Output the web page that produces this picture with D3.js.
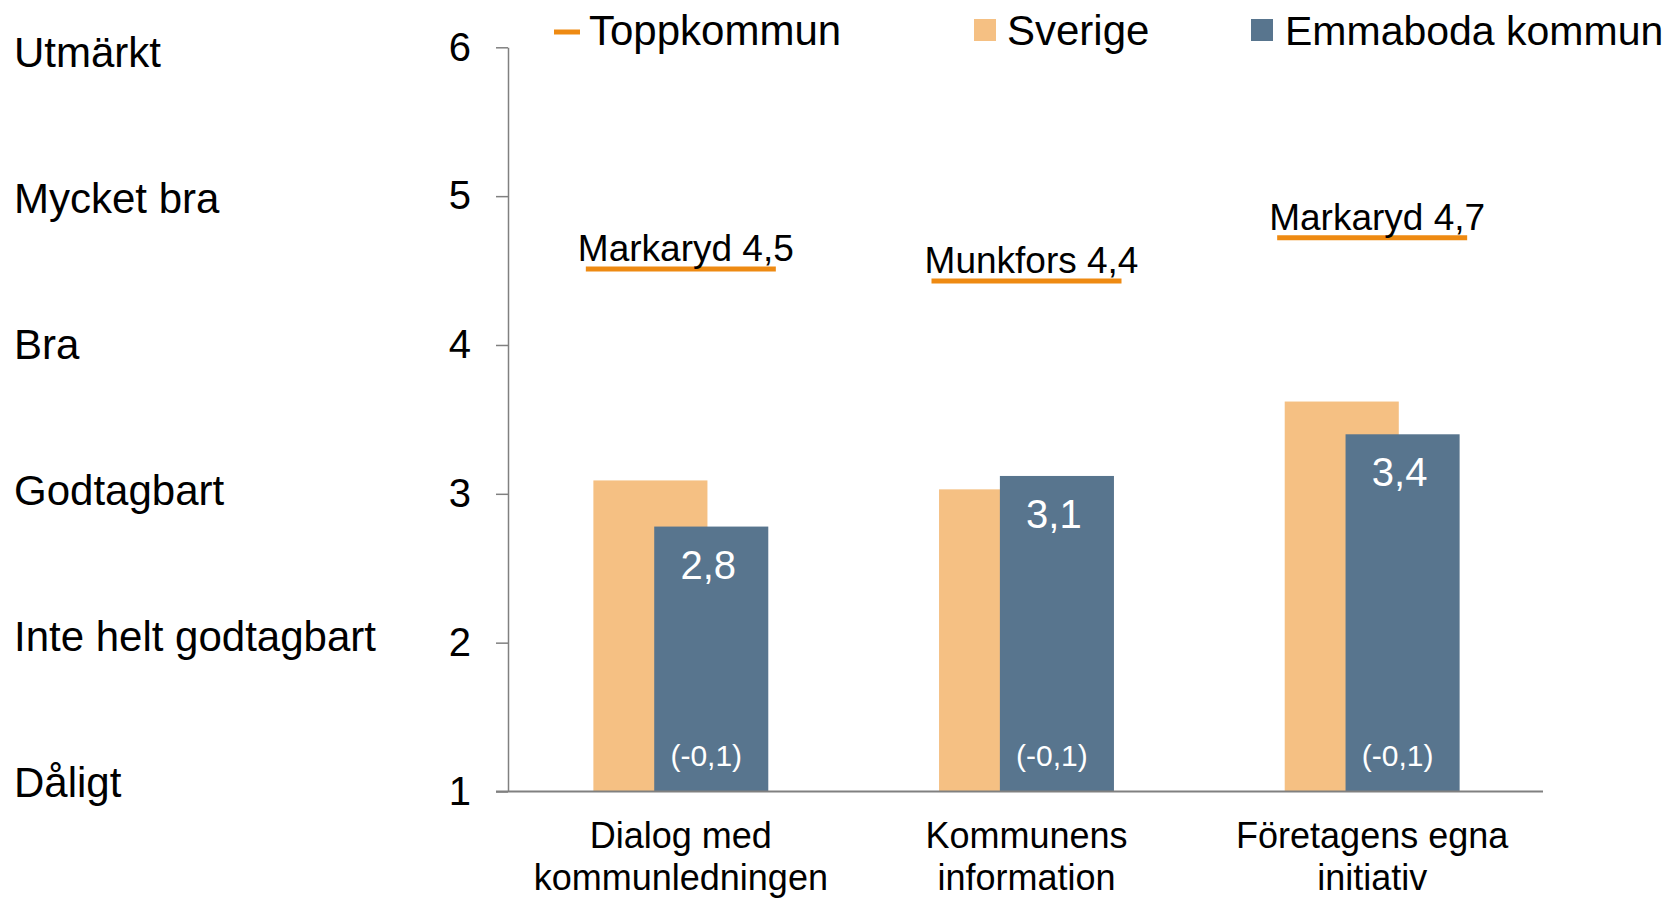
<!DOCTYPE html>
<html>
<head>
<meta charset="utf-8">
<script src="https://cdn.jsdelivr.net/npm/d3@7"></script>
<style>
  html, body { margin: 0; padding: 0; background: #ffffff; }
  svg { display: block; font-family: "Liberation Sans", Arial, sans-serif; }
</style>
</head>
<body>
<svg id="chart" width="1680" height="900"></svg>
<script>
// ---- data ----
const categories = [
  ["Dialog med", "kommunledningen"],
  ["Kommunens", "information"],
  ["Företagens egna", "initiativ"]
];
const sverige = [3.09, 3.03, 3.62];
const emmaboda = [2.78, 3.12, 3.40];
const topNames = ["Markaryd", "Munkfors", "Markaryd"];
const topValues = [4.51, 4.43, 4.72];
const changes = [-0.1, -0.1, -0.1];
const yTicks = [1, 2, 3, 4, 5, 6];
const scaleLabels = ["Dåligt", "Inte helt godtagbart", "Godtagbart", "Bra", "Mycket bra", "Utmärkt"];
const seriesNames = ["Toppkommun", "Sverige", "Emmaboda kommun"];

// ---- style ----
const cSverige = "#F5C083";
const cEmma = "#58758E";
const cTop = "#EE8A12";
const cAxis = "#808080";

const svg = d3.select("#chart");
const fmt = v => d3.format(".1f")(v).replace(".", ",").replace("\u2212", "-");

const y = d3.scaleLinear().domain([1, 6]).range([791.5, 47.3]);
const x = d3.scaleBand().domain(d3.range(categories.length)).range([508, 1545]).padding(0);
const bw = x.bandwidth() * 0.33;
const shift = x.bandwidth() * 0.088;
const centre = i => x(i) + x.bandwidth() / 2;

// y axis
const yAxis = svg.append("g").attr("transform", "translate(508,0)")
  .call(d3.axisLeft(y).tickValues(yTicks).tickFormat(d3.format("d")).tickSize(12).tickPadding(25).tickSizeOuter(0));
yAxis.select(".domain").attr("stroke", cAxis).attr("stroke-width", 1.5);
yAxis.selectAll(".tick line").attr("stroke", cAxis).attr("stroke-width", 1.5);
yAxis.selectAll(".tick text").attr("font-size", 40).attr("fill", "#000").attr("font-family", "Liberation Sans, Arial, sans-serif");

// left scale labels
const labelY = d3.scaleLinear().domain([1, 6]).range([782, 52]);
svg.append("g").selectAll("text").data(yTicks).join("text")
  .attr("x", 14)
  .attr("y", d => labelY(d) + 15)
  .attr("font-size", 42)
  .attr("fill", "#000")
  .text((d, i) => scaleLabels[i]);

// bars
const g = svg.append("g");
g.selectAll("rect.sv").data(sverige).join("rect").attr("class", "sv")
  .attr("x", (d, i) => centre(i) - shift - bw / 2)
  .attr("y", d => y(d))
  .attr("width", bw)
  .attr("height", d => y(1) - y(d))
  .attr("fill", cSverige);

g.selectAll("rect.em").data(emmaboda).join("rect").attr("class", "em")
  .attr("x", (d, i) => centre(i) + shift - bw / 2)
  .attr("y", d => y(d))
  .attr("width", bw)
  .attr("height", d => y(1) - y(d))
  .attr("fill", cEmma);

// value labels
g.selectAll("text.val").data(emmaboda).join("text").attr("class", "val")
  .attr("x", (d, i) => centre(i) + shift - 3)
  .attr("y", d => y(d) + 52)
  .attr("text-anchor", "middle")
  .attr("font-size", 40)
  .attr("fill", "#fff")
  .text(d => fmt(d));

g.selectAll("text.chg").data(changes).join("text").attr("class", "chg")
  .attr("x", (d, i) => centre(i) + shift - 5)
  .attr("y", y(1) - 26)
  .attr("text-anchor", "middle")
  .attr("font-size", 30)
  .attr("fill", "#fff")
  .text(d => "(" + fmt(d) + ")");

// x baseline
svg.append("line")
  .attr("x1", 496).attr("x2", 1543)
  .attr("y1", y(1)).attr("y2", y(1))
  .attr("stroke", cAxis).attr("stroke-width", 2);

// category labels
const cat = svg.append("g").selectAll("text").data(categories).join("text")
  .attr("text-anchor", "middle")
  .attr("font-size", 36)
  .attr("fill", "#000");
cat.each(function(lines, i) {
  d3.select(this).selectAll("tspan").data(lines).join("tspan")
    .attr("x", centre(i))
    .attr("y", (l, j) => 848 + j * 42)
    .text(l => l);
});

// top markers
const lineW = 190;
g.selectAll("line.top").data(topValues).join("line").attr("class", "top")
  .attr("x1", (d, i) => centre(i) - lineW / 2)
  .attr("x2", (d, i) => centre(i) + lineW / 2)
  .attr("y1", d => y(d)).attr("y2", d => y(d))
  .attr("stroke", cTop).attr("stroke-width", 5);

g.selectAll("text.top").data(topValues).join("text").attr("class", "top")
  .attr("x", (d, i) => centre(i) + 5)
  .attr("y", d => y(d) - 8)
  .attr("text-anchor", "middle")
  .attr("font-size", 37)
  .attr("fill", "#000")
  .text((d, i) => topNames[i] + " " + fmt(d));

// legend
const leg = svg.append("g");
leg.append("line").attr("x1", 554).attr("x2", 580).attr("y1", 32).attr("y2", 32)
  .attr("stroke", cTop).attr("stroke-width", 5);
leg.append("text").attr("x", 589).attr("y", 45).attr("font-size", 42).text(seriesNames[0]);
leg.append("rect").attr("x", 974).attr("y", 19).attr("width", 22).attr("height", 22).attr("fill", cSverige);
leg.append("text").attr("x", 1007).attr("y", 45).attr("font-size", 42).text(seriesNames[1]);
leg.append("rect").attr("x", 1251).attr("y", 19).attr("width", 22).attr("height", 22).attr("fill", cEmma);
leg.append("text").attr("x", 1285).attr("y", 45).attr("font-size", 41).text(seriesNames[2]);
</script>
</body>
</html>
